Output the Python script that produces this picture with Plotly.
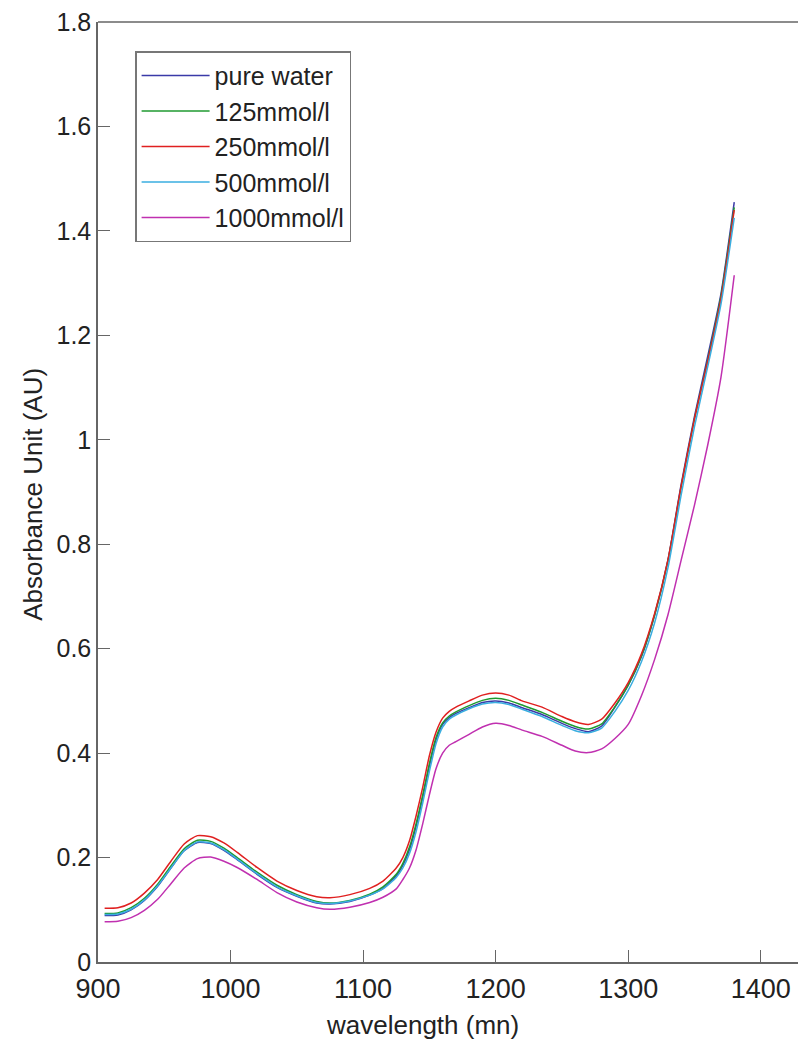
import plotly.graph_objects as go

wavelength = [905, 915, 925, 935, 945, 955, 965, 975, 985, 995, 1005, 1020, 1035, 1050, 1065, 1075,
              1090, 1105, 1115, 1125, 1130, 1135, 1140, 1145, 1150, 1155, 1160, 1165, 1170, 1180,
              1190, 1200, 1210, 1220, 1235, 1250, 1260, 1270, 1280, 1290, 1300, 1310, 1320, 1330,
              1340, 1350, 1360, 1370, 1380]

pure_water = [0.089, 0.090, 0.100, 0.118, 0.145, 0.180, 0.213, 0.229, 0.227, 0.214, 0.196, 0.168,
              0.143, 0.126, 0.113, 0.111, 0.116, 0.128, 0.141, 0.165, 0.185, 0.215, 0.260, 0.315,
              0.375, 0.425, 0.455, 0.468, 0.476, 0.487, 0.497, 0.500, 0.496, 0.487, 0.474, 0.457,
              0.447, 0.441, 0.452, 0.488, 0.530, 0.585, 0.665, 0.770, 0.915, 1.045, 1.160, 1.280, 1.455]

mmol_125 = [0.093, 0.094, 0.104, 0.122, 0.149, 0.184, 0.217, 0.233, 0.231, 0.218, 0.200, 0.172,
            0.147, 0.129, 0.116, 0.113, 0.118, 0.130, 0.144, 0.168, 0.189, 0.220, 0.265, 0.320,
            0.380, 0.430, 0.458, 0.471, 0.479, 0.491, 0.501, 0.505, 0.501, 0.492, 0.478, 0.461,
            0.451, 0.446, 0.456, 0.489, 0.530, 0.586, 0.665, 0.768, 0.910, 1.040, 1.152, 1.275, 1.445]

mmol_250 = [0.103, 0.104, 0.113, 0.132, 0.158, 0.193, 0.226, 0.242, 0.240, 0.228, 0.210, 0.181,
            0.155, 0.137, 0.125, 0.123, 0.129, 0.141, 0.155, 0.180, 0.200, 0.232, 0.280, 0.335,
            0.395, 0.440, 0.467, 0.480, 0.488, 0.500, 0.511, 0.515, 0.511, 0.500, 0.488, 0.470,
            0.460, 0.455, 0.465, 0.496, 0.535, 0.590, 0.668, 0.770, 0.912, 1.040, 1.150, 1.270, 1.440]

mmol_500 = [0.091, 0.092, 0.101, 0.119, 0.146, 0.180, 0.213, 0.230, 0.228, 0.215, 0.197, 0.169,
            0.144, 0.127, 0.114, 0.112, 0.117, 0.128, 0.140, 0.162, 0.180, 0.208, 0.250, 0.305,
            0.365, 0.418, 0.450, 0.465, 0.473, 0.485, 0.494, 0.497, 0.493, 0.484, 0.470, 0.453,
            0.443, 0.439, 0.448, 0.480, 0.520, 0.575, 0.650, 0.755, 0.895, 1.025, 1.140, 1.260, 1.425]

mmol_1000 = [0.077, 0.078, 0.085, 0.099, 0.120, 0.150, 0.180, 0.198, 0.201, 0.193, 0.181, 0.158,
             0.133, 0.115, 0.104, 0.101, 0.105, 0.114, 0.124, 0.140, 0.158, 0.180, 0.215, 0.265,
             0.320, 0.370, 0.400, 0.415, 0.422, 0.436, 0.450, 0.457, 0.453, 0.444, 0.432, 0.415,
             0.404, 0.401, 0.408, 0.428, 0.455, 0.510, 0.580, 0.665, 0.770, 0.875, 0.990, 1.120, 1.315]

series_names = ["pure water", "125mmol/l", "250mmol/l", "500mmol/l", "1000mmol/l"]
series_values = [pure_water, mmol_125, mmol_250, mmol_500, mmol_1000]
series_colors = ["#3a3aa8", "#1f9a30", "#e02020", "#3aaee0", "#c030b0"]

x_ticks = [900, 1000, 1100, 1200, 1300, 1400]
y_ticks = [0, 0.2, 0.4, 0.6, 0.8, 1, 1.2, 1.4, 1.6, 1.8]

fig = go.Figure()
for name, vals, col in zip(series_names, series_values, series_colors):
    fig.add_trace(go.Scatter(
        x=wavelength, y=vals, mode="lines", name=name,
        line=dict(color=col, width=1.5, shape="spline", smoothing=0.6),
    ))

axis_color = "#666666"
font_family = "Liberation Sans, Arial, sans-serif"

fig.update_layout(
    width=798, height=1043,
    margin=dict(l=98, r=0, t=22, b=81),
    paper_bgcolor="white", plot_bgcolor="white",
    font=dict(family=font_family, color="#222222"),
    showlegend=True,
    legend=dict(
        x=0.053, y=0.969, xanchor="left", yanchor="top",
        bgcolor="white", bordercolor="#777777", borderwidth=1.5,
        font=dict(size=25, color="#222222"),
        itemwidth=68, tracegroupgap=0,
    ),
    xaxis=dict(
        range=[900, 1428.1], tickvals=x_ticks, ticks="inside", ticklen=12,
        tickcolor=axis_color, showline=True, linecolor=axis_color, linewidth=1.5,
        showgrid=False, zeroline=False, tickfont=dict(size=27),
        automargin=False, ticklabelstandoff=2,
    ),
    yaxis=dict(
        range=[0, 1.8], tickvals=y_ticks, ticks="inside", ticklen=12,
        tickcolor=axis_color, showline=True, linecolor=axis_color, linewidth=1.5,
        showgrid=False, zeroline=False, tickfont=dict(size=25),
        automargin=False,
    ),
    shapes=[dict(type="line", xref="paper", yref="paper", x0=0, x1=1, y0=1, y1=1,
                 line=dict(color=axis_color, width=1.5))],
    annotations=[
        dict(text="wavelength (mn)", xref="paper", yref="paper", x=0.464, y=-0.067,
             xanchor="center", yanchor="middle", showarrow=False,
             font=dict(size=26, color="#222222")),
        dict(text="Absorbance Unit (AU)", xref="paper", yref="paper", x=-0.093, y=0.498,
             xanchor="center", yanchor="middle", showarrow=False, textangle=-90,
             font=dict(size=26, color="#222222")),
    ],
)

fig.write_html("out.html", config={"displayModeBar": False},
               post_script="document.body.style.margin='0';document.body.style.overflow='hidden';")
